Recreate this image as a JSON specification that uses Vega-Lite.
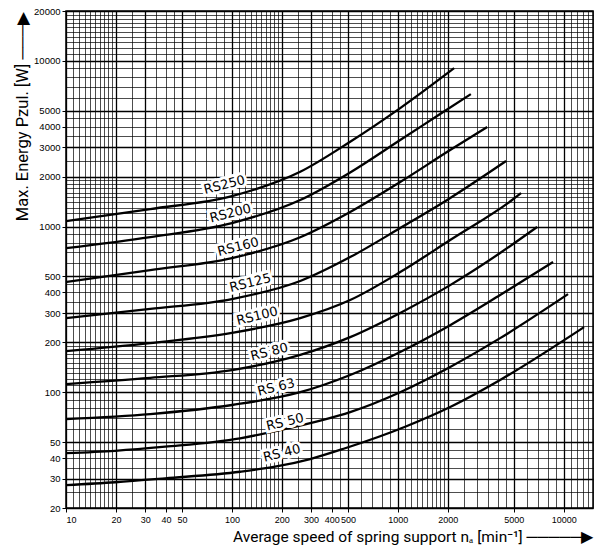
{
  "$schema": "https://vega.github.io/schema/vega-lite/v6.json",
  "width": 527,
  "height": 497,
  "autosize": {"type": "none"},
  "padding": {"left": 66, "top": 11, "right": 10, "bottom": 41},
  "background": "white",
  "config": {
    "view": {"stroke": "black", "strokeWidth": 1.5},
    "font": "Liberation Sans"
  },
  "datasets": {
    "curves": [
      {"series": "RS250", "n": 10, "p": 1079},
      {"series": "RS250", "n": 32.2, "p": 1275},
      {"series": "RS250", "n": 100, "p": 1527},
      {"series": "RS250", "n": 258, "p": 2140},
      {"series": "RS250", "n": 516, "p": 3250},
      {"series": "RS250", "n": 1033, "p": 5188},
      {"series": "RS250", "n": 2183, "p": 9040},
      {"series": "RS200", "n": 10, "p": 741},
      {"series": "RS200", "n": 32.2, "p": 864},
      {"series": "RS200", "n": 100, "p": 1050},
      {"series": "RS200", "n": 258, "p": 1445},
      {"series": "RS200", "n": 516, "p": 2120},
      {"series": "RS200", "n": 1033, "p": 3327},
      {"series": "RS200", "n": 1798, "p": 4774},
      {"series": "RS200", "n": 2754, "p": 6300},
      {"series": "RS160", "n": 10, "p": 462},
      {"series": "RS160", "n": 32.2, "p": 546},
      {"series": "RS160", "n": 100, "p": 645},
      {"series": "RS160", "n": 258, "p": 861},
      {"series": "RS160", "n": 516, "p": 1223},
      {"series": "RS160", "n": 1033, "p": 1856},
      {"series": "RS160", "n": 2066, "p": 2894},
      {"series": "RS160", "n": 3451, "p": 3984},
      {"series": "RS125", "n": 10, "p": 280},
      {"series": "RS125", "n": 32.2, "p": 318},
      {"series": "RS125", "n": 100, "p": 365},
      {"series": "RS125", "n": 258, "p": 469},
      {"series": "RS125", "n": 516, "p": 654},
      {"series": "RS125", "n": 1033, "p": 979},
      {"series": "RS125", "n": 1982, "p": 1446},
      {"series": "RS125", "n": 4490, "p": 2484},
      {"series": "RS100", "n": 10, "p": 177},
      {"series": "RS100", "n": 32.2, "p": 198},
      {"series": "RS100", "n": 100, "p": 228},
      {"series": "RS100", "n": 258, "p": 280},
      {"series": "RS100", "n": 516, "p": 360},
      {"series": "RS100", "n": 1033, "p": 531},
      {"series": "RS100", "n": 2066, "p": 829},
      {"series": "RS100", "n": 4882, "p": 1446},
      {"series": "RS100", "n": 5531, "p": 1592},
      {"series": "RS 80", "n": 10, "p": 112},
      {"series": "RS 80", "n": 32.2, "p": 122},
      {"series": "RS 80", "n": 100, "p": 136},
      {"series": "RS 80", "n": 258, "p": 168},
      {"series": "RS 80", "n": 516, "p": 215},
      {"series": "RS 80", "n": 1033, "p": 301},
      {"series": "RS 80", "n": 2066, "p": 443},
      {"series": "RS 80", "n": 4133, "p": 692},
      {"series": "RS 80", "n": 6904, "p": 993},
      {"series": "RS 63", "n": 10, "p": 68.9},
      {"series": "RS 63", "n": 32.2, "p": 73.8},
      {"series": "RS 63", "n": 100, "p": 83.7},
      {"series": "RS 63", "n": 258, "p": 100},
      {"series": "RS 63", "n": 516, "p": 127},
      {"series": "RS 63", "n": 1033, "p": 175},
      {"series": "RS 63", "n": 2066, "p": 254},
      {"series": "RS 63", "n": 4133, "p": 386},
      {"series": "RS 63", "n": 8618, "p": 610},
      {"series": "RS 50", "n": 10, "p": 42.9},
      {"series": "RS 50", "n": 19.8, "p": 44.3},
      {"series": "RS 50", "n": 39.6, "p": 46.9},
      {"series": "RS 50", "n": 112, "p": 52.7},
      {"series": "RS 50", "n": 195, "p": 59.1},
      {"series": "RS 50", "n": 350, "p": 67.9},
      {"series": "RS 50", "n": 516, "p": 75.9},
      {"series": "RS 50", "n": 1033, "p": 100},
      {"series": "RS 50", "n": 2066, "p": 142},
      {"series": "RS 50", "n": 4133, "p": 212},
      {"series": "RS 50", "n": 10614, "p": 391},
      {"series": "RS 40", "n": 10, "p": 27.5},
      {"series": "RS 40", "n": 19.8, "p": 28.6},
      {"series": "RS 40", "n": 39.6, "p": 30.2},
      {"series": "RS 40", "n": 112, "p": 33.1},
      {"series": "RS 40", "n": 182, "p": 35.5},
      {"series": "RS 40", "n": 296, "p": 39.5},
      {"series": "RS 40", "n": 481, "p": 45.9},
      {"series": "RS 40", "n": 1107, "p": 61.9},
      {"series": "RS 40", "n": 2066, "p": 81.4},
      {"series": "RS 40", "n": 4133, "p": 118.5},
      {"series": "RS 40", "n": 13250, "p": 247}
    ],
    "labels": [
      {"label": "RS250", "n": 90, "p": 1780},
      {"label": "RS200", "n": 98, "p": 1200},
      {"label": "RS160", "n": 109, "p": 752},
      {"label": "RS125", "n": 129, "p": 456},
      {"label": "RS100", "n": 142, "p": 288},
      {"label": "RS 80", "n": 168, "p": 175},
      {"label": "RS 63", "n": 185, "p": 107},
      {"label": "RS 50", "n": 209, "p": 66},
      {"label": "RS 40", "n": 200, "p": 42.8}
    ]
  },
  "encoding": {
    "x": {
      "field": "n",
      "type": "quantitative",
      "scale": {"type": "log", "domain": [10, 15000], "nice": false},
      "axis": {
        "values": [10,11,12,13,14,15,16,17,18,19,20,25,30,35,40,45,50,60,70,80,90,100,110,120,130,140,150,160,170,180,190,200,250,300,350,400,450,500,600,700,800,900,1000,1100,1200,1300,1400,1500,1600,1700,1800,1900,2000,2500,3000,3500,4000,4500,5000,6000,7000,8000,9000,10000,11000,12000,13000,14000,15000],
        "labelExpr": "indexof([10,20,30,40,50,100,200,300,400,500,1000,2000,5000,10000], datum.value) >= 0 ? format(datum.value, 'd') : ''",
        "labelOverlap": false,
        "labelFont": "Liberation Sans",
        "labelFontSize": 9,
        "labelColor": "black",
        "labelPadding": 3,
        "domain": false,
        "tickSize": 4,
        "tickColor": "black",
        "tickOpacity": {"condition": {"test": "indexof([10,20,30,40,50,100,200,300,400,500,1000,2000,5000,10000], datum.value) >= 0", "value": 1}, "value": 0},
        "grid": true,
        "gridColor": "black",
        "gridOpacity": 1,
        "gridWidth": {"condition": {"test": "indexof([10,20,30,50,100,200,300,500,1000,2000,5000,10000], datum.value) >= 0", "value": 1.3}, "value": 0.7},
        "title": "Average speed of spring support nₐ [min⁻¹] ─────▶",
        "titleFont": "Roboto",
        "titleFontSize": 15.5,
        "titleFontWeight": "normal",
        "titleColor": "black",
        "titleAnchor": "end",
        "titlePadding": 5
      }
    },
    "y": {
      "field": "p",
      "type": "quantitative",
      "scale": {"type": "log", "domain": [20, 20000], "nice": false},
      "axis": {
        "values": [20,25,30,35,40,45,50,60,70,80,90,100,110,120,130,140,150,160,170,180,190,200,250,300,350,400,450,500,600,700,800,900,1000,1100,1200,1300,1400,1500,1600,1700,1800,1900,2000,2500,3000,3500,4000,4500,5000,6000,7000,8000,9000,10000,11000,12000,13000,14000,15000,16000,17000,18000,19000,20000],
        "labelExpr": "indexof([20,30,40,50,100,200,300,400,500,1000,2000,3000,4000,5000,10000,20000], datum.value) >= 0 ? format(datum.value, 'd') : ''",
        "labelOverlap": false,
        "labelFont": "Liberation Sans",
        "labelFontSize": 9.5,
        "labelColor": "black",
        "labelPadding": 2,
        "domain": false,
        "tickSize": 4,
        "tickColor": "black",
        "tickOpacity": {"condition": {"test": "indexof([20,30,40,50,100,200,300,400,500,1000,2000,3000,4000,5000,10000,20000], datum.value) >= 0", "value": 1}, "value": 0},
        "grid": true,
        "gridColor": "black",
        "gridOpacity": 1,
        "gridWidth": {"condition": {"test": "indexof([20,30,50,100,200,300,500,1000,2000,3000,5000,10000,20000], datum.value) >= 0", "value": 1.3}, "value": 0.7},
        "title": "Max. Energy Pzul. [W] ───▶",
        "titleFont": "Roboto",
        "titleFontSize": 16.5,
        "titleFontWeight": "normal",
        "titleColor": "black",
        "titleAnchor": "end",
        "titlePadding": 3
      }
    }
  },
  "layer": [
    {
      "data": {"name": "curves"},
      "mark": {"type": "line", "color": "black", "strokeWidth": 2.3, "interpolate": "monotone"},
      "encoding": {"detail": {"field": "series"}}
    },
    {
      "data": {"name": "labels"},
      "mark": {"type": "text", "angle": -14, "fontSize": 13, "font": "DejaVu Sans", "stroke": "white", "strokeWidth": 6, "fill": "white"},
      "encoding": {"text": {"field": "label"}}
    },
    {
      "data": {"name": "labels"},
      "mark": {"type": "text", "angle": -14, "fontSize": 13, "font": "DejaVu Sans", "fill": "black"},
      "encoding": {"text": {"field": "label"}}
    }
  ]
}
